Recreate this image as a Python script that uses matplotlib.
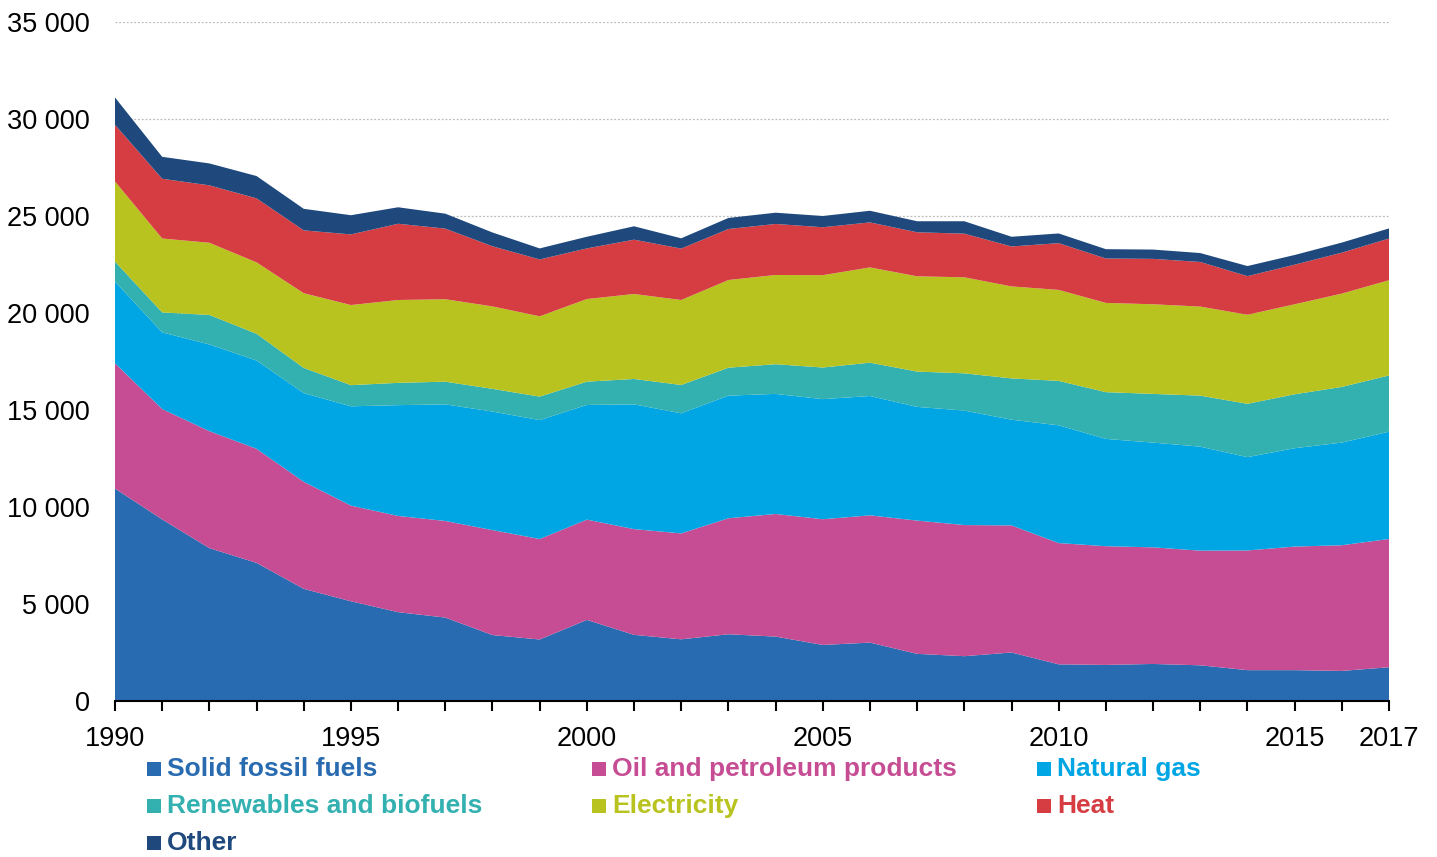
import matplotlib
matplotlib.use("Agg")
import matplotlib.pyplot as plt
from matplotlib.patches import Rectangle
from matplotlib.ticker import FuncFormatter, MultipleLocator

plt.rcParams['font.family'] = ['Liberation Sans', 'DejaVu Sans']

years = list(range(1990, 2018))

solid = [10950, 9360, 7880, 7120, 5780, 5140, 4580, 4300, 3400, 3170,
         4180, 3410, 3180, 3440, 3320, 2890, 3010, 2430, 2310, 2500,
         1890, 1860, 1910, 1840, 1590, 1590, 1550, 1740]
oil = [6460, 5690, 6030, 5880, 5520, 4930, 4960, 4980, 5410, 5180,
       5170, 5450, 5460, 5980, 6320, 6480, 6560, 6870, 6760, 6550,
       6250, 6120, 6010, 5910, 6170, 6370, 6480, 6610]
gas = [4210, 3950, 4470, 4550, 4570, 5120, 5710, 6010, 6110, 6130,
       5910, 6430, 6190, 6320, 6190, 6190, 6150, 5860, 5900, 5450,
       6070, 5530, 5400, 5360, 4810, 5070, 5290, 5530]
renewables = [1030, 1030, 1520, 1380, 1300, 1090, 1150, 1170, 1170, 1210,
              1200, 1310, 1460, 1440, 1530, 1630, 1720, 1820, 1920, 2130,
              2290, 2410, 2510, 2630, 2750, 2780, 2870, 2900]
electricity = [4130, 3810, 3720, 3680, 3850, 4130, 4270, 4250, 4250, 4140,
               4260, 4380, 4380, 4520, 4600, 4760, 4910, 4910, 4950, 4740,
               4690, 4600, 4620, 4590, 4590, 4640, 4810, 4910]
heat = [2920, 3080, 2960, 3300, 3240, 3640, 3930, 3640, 3100, 2930,
        2610, 2800, 2650, 2630, 2630, 2470, 2320, 2270, 2250, 2060,
        2410, 2290, 2340, 2300, 1990, 2040, 2110, 2150]
other = [1410, 1130, 1130, 1150, 1110, 990, 850, 770, 710, 570,
         600, 690, 530, 570, 580, 580, 600, 570, 640, 500,
         500, 480, 480, 460, 520, 500, 520, 520]

labels = ["Solid fossil fuels", "Oil and petroleum products", "Natural gas",
          "Renewables and biofuels", "Electricity", "Heat", "Other"]
colors = ["#286BB1", "#C64D93", "#00A6E3", "#33B0B0", "#B8C31F", "#D63D43", "#1F497D"]
xtick_labels = [1990, 1995, 2000, 2005, 2010, 2015, 2017]

fig = plt.figure(figsize=(14.37, 8.57), dpi=100)
ax = fig.add_axes([115/1437, 1 - 701/857, (1389 - 115)/1437, (701 - 22)/857])

ax.stackplot(years, solid, oil, gas, renewables, electricity, heat, other,
             colors=colors, linewidth=0, zorder=2)

ax.set_xlim(1990, 2017)
ax.set_ylim(0, 35000)

ax.yaxis.set_major_locator(MultipleLocator(5000))
ax.yaxis.set_major_formatter(FuncFormatter(lambda v, p: f"{int(v):,}".replace(",", " ")))
ax.grid(axis='y', color='#BBBBBB', linestyle=(0, (1.5, 1.5)), linewidth=0.9, zorder=1)
ax.set_axisbelow(True)

ax.set_xticks(years)
ax.set_xticklabels([str(y) if y in xtick_labels else "" for y in years])
ax.tick_params(axis='x', direction='out', length=7, width=1.5, color='black',
               labelsize=19.5, pad=11)
ax.tick_params(axis='y', length=0, labelsize=19.5, pad=18)

for s in ['top', 'right', 'left']:
    ax.spines[s].set_visible(False)
ax.spines['bottom'].set_linewidth(1.5)
ax.spines['bottom'].set_zorder(5)

# legend (3 columns, colored bold text)
col_x = [147, 592, 1037]
row_y = [769, 806, 843]
sq = 14
for i, (lab, col) in enumerate(zip(labels, colors)):
    r, c = divmod(i, 3)
    x0 = col_x[c]
    yc = row_y[r]
    fig.patches.append(Rectangle((x0 / 1437, 1 - (yc + sq / 2) / 857), sq / 1437, sq / 857,
                                 transform=fig.transFigure, facecolor=col, edgecolor='none'))
    fig.text((x0 + sq + 6) / 1437, 1 - yc / 857, lab, color=col, fontsize=19,
             fontweight='bold', va='center', ha='left')

fig.savefig("out.png", dpi=100)
